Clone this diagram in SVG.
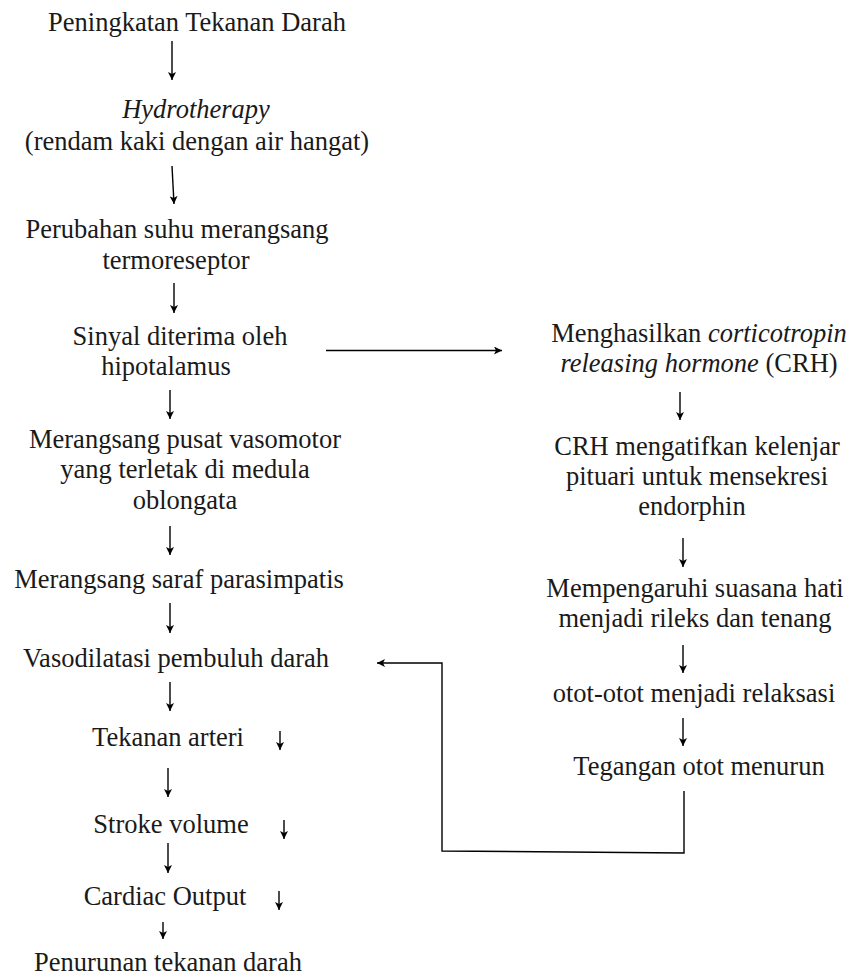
<svg xmlns="http://www.w3.org/2000/svg" width="853" height="977" viewBox="0 0 853 977">
<style>
text{font-family:"Liberation Serif","Times New Roman",serif;font-size:26.5px;fill:#1a1a1a;text-anchor:middle}
.it{font-style:italic}
.c{fill:none;stroke:#000;stroke-width:1.4}
.a{marker-end:url(#ah)}
</style>
<defs>
<marker id="ah" markerUnits="userSpaceOnUse" markerWidth="9" markerHeight="8" refX="8" refY="4" orient="auto">
<path d="M0,0 L8,4 L0,8 L2,4 z" fill="#000"/>
</marker>
</defs>
<rect width="853" height="977" fill="#fff"/>
<g id="n1"><text x="197" y="31">Peningkatan Tekanan Darah</text></g>
<g id="n2"><text class="it" x="196" y="118">Hydrotherapy</text><text x="197" y="150">(rendam kaki dengan air hangat)</text></g>
<g id="n3"><text x="177" y="238">Perubahan suhu merangsang</text><text x="176" y="269">termoreseptor</text></g>
<g id="n4"><text x="180" y="345">Sinyal diterima oleh</text><text x="166" y="375">hipotalamus</text></g>
<g id="n5"><text x="185" y="448">Merangsang pusat vasomotor</text><text x="185" y="478">yang terletak di medula</text><text x="185" y="509">oblongata</text></g>
<g id="n6"><text x="179" y="588">Merangsang saraf parasimpatis</text></g>
<g id="n7"><text x="176" y="667">Vasodilatasi pembuluh darah</text></g>
<g id="n8"><text x="168" y="746">Tekanan arteri</text><line class="c a" x1="280" y1="731" x2="280" y2="750"/></g>
<g id="n9"><text x="171" y="833">Stroke volume</text><line class="c a" x1="284" y1="820" x2="284" y2="839"/></g>
<g id="n10"><text x="165" y="905">Cardiac Output</text><line class="c a" x1="279" y1="891" x2="279" y2="910"/></g>
<g id="n11"><text x="168" y="971">Penurunan tekanan darah</text></g>
<g id="r1"><text x="699" y="342">Menghasilkan <tspan class="it">corticotropin</tspan></text><text x="699" y="372"><tspan class="it">releasing hormone</tspan> (CRH)</text></g>
<g id="r2"><text x="697" y="455">CRH mengatifkan kelenjar</text><text x="697" y="485">pituari untuk mensekresi</text><text x="692" y="515">endorphin</text></g>
<g id="r3"><text x="695" y="597">Mempengaruhi suasana hati</text><text x="695" y="627">menjadi rileks dan tenang</text></g>
<g id="r4"><text x="694" y="702">otot-otot menjadi relaksasi</text></g>
<g id="r5"><text x="699" y="775">Tegangan otot menurun</text></g>
<g id="connectors">
<line class="c a" x1="172" y1="41" x2="172" y2="80"/>
<line class="c a" x1="172" y1="166" x2="174" y2="204"/>
<line class="c a" x1="174" y1="283" x2="174" y2="313"/>
<line class="c a" x1="326" y1="350.5" x2="502" y2="350.5"/>
<line class="c a" x1="170" y1="390" x2="170" y2="419"/>
<line class="c a" x1="170" y1="526" x2="170" y2="555"/>
<line class="c a" x1="170" y1="603" x2="170" y2="633"/>
<line class="c a" x1="170" y1="682" x2="170" y2="711"/>
<line class="c a" x1="168" y1="768" x2="168" y2="797"/>
<line class="c a" x1="168" y1="843" x2="168" y2="873"/>
<line class="c a" x1="163" y1="922" x2="163" y2="939"/>
<line class="c a" x1="680" y1="392" x2="680" y2="420"/>
<line class="c a" x1="683" y1="538" x2="683" y2="567"/>
<line class="c a" x1="683" y1="645" x2="683" y2="673"/>
<line class="c a" x1="683" y1="718" x2="683" y2="746"/>
<polyline class="c a" points="684,791 684,853 442,851 442,663 377,663"/>
</g>
</svg>
